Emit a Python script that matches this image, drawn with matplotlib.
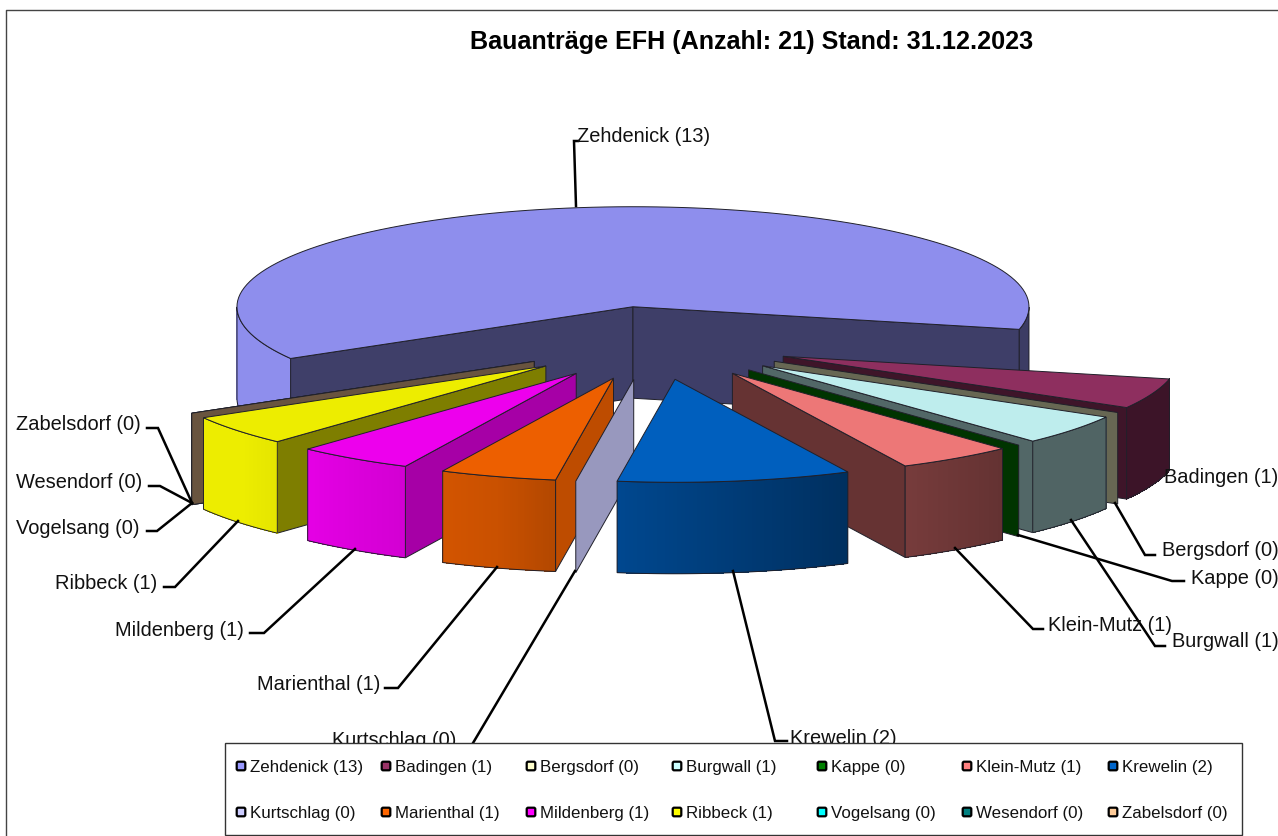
import matplotlib
matplotlib.use('Agg')
import matplotlib.pyplot as plt
from matplotlib.patches import Polygon, Rectangle, FancyBboxPatch
import numpy as np

plt.rcParams['font.family'] = ['Liberation Sans', 'DejaVu Sans']

# data
places = ['Zehdenick', 'Badingen', 'Bergsdorf', 'Burgwall', 'Kappe', 'Klein-Mutz', 'Krewelin',
          'Kurtschlag', 'Marienthal', 'Mildenberg', 'Ribbeck', 'Vogelsang', 'Wesendorf', 'Zabelsdorf']
counts = [13, 1, 0, 1, 0, 1, 2, 0, 1, 1, 1, 0, 0, 0]
colors = ['#9999ff', '#993366', '#ffffcc', '#ccffff', '#008000', '#ff8080', '#0066cc',
          '#ccccff', '#ff6600', '#ff00ff', '#ffff00', '#00ffff', '#008080', '#ffcc99']
title = 'Bauanträge EFH (Anzahl: 21) Stand: 31.12.2023'

# pie geometry, in pixels
cx, cy = 654, 344
rx = 396
ry_back, ry_front = 100, 103
explode_x, explode_y = 138.6, 36.7
depth = 91.5
first_angle = -12.7
draw_order = [0, 11, 12, 13, 10, 9, 8, 7, 1, 2, 3, 4, 5, 6]

# where the labels sit: text x, text y, align, leader line
label_layout = {
    'Zehdenick': (577, 135, 'left', [(576, 207), (574, 142), (578, 142)]),
    'Krewelin': (790, 737, 'left', [(733, 572), (775, 742), (787, 742)]),
    'Kurtschlag': (456, 739, 'right', [(575, 572), (473, 744)]),
    'Marienthal': (380, 683, 'right', [(497, 568), (398, 689), (385, 689)]),
    'Mildenberg': (244, 629, 'right', [(355, 550), (264, 634), (250, 634)]),
    'Ribbeck': (157, 582, 'right', [(238, 522), (175, 588), (164, 588)]),
    'Vogelsang': (140, 527, 'right', [(192, 504), (157, 532), (147, 532)]),
    'Wesendorf': (142, 481, 'right', [(192, 504), (160, 487), (149, 487)]),
    'Zabelsdorf': (141, 423, 'right', [(192, 504), (158, 429), (147, 429)]),
    'Badingen': (1164, 476, 'left', None),
    'Bergsdorf': (1162, 549, 'left', [(1115, 504), (1145, 556), (1155, 556)]),
    'Kappe': (1191, 577, 'left', [(1018, 536), (1172, 582), (1184, 582)]),
    'Burgwall': (1172, 640, 'left', [(1071, 521), (1155, 647), (1165, 647)]),
    'Klein-Mutz': (1048, 624, 'left', [(955, 549), (1033, 630), (1043, 630)]),
}
legend_x = [241, 386, 531, 677, 822, 967, 1113]
legend_y = [767, 813]


def norm_angle(a):
    return (a + 180) % 360 - 180


def rgb(hex_color, shade):
    c = np.array(matplotlib.colors.to_rgb(hex_color)) * 0.93 * shade
    return tuple(np.clip(c, 0, 1))


def outer_shade(a):
    return np.interp(norm_angle(a), [-180, -140, -125, -107, -98, -64, -47, 180],
                     [1, 1, 0.93, 0.85, 0.75, 0.5, 0.42, 0.42])


def wall_shade(normal):
    return np.interp(norm_angle(normal), [-180, -60, -42.7, -25.6, -8.4, 180],
                     [0.43, 0.44, 0.53, 0.7, 0.8, 0.8])


def rim(tip, a):
    a = np.radians(a)
    ry = ry_front if np.sin(a) < 0 else ry_back
    return tip[0] + rx * np.cos(a), tip[1] - ry * np.sin(a)


fig = plt.figure(figsize=(12.78, 8.37), dpi=100)
ax = fig.add_axes([0, 0, 1, 1])
ax.set_xlim(0, 1278)
ax.set_ylim(837, 0)
ax.axis('off')

line_col = '#20202a'

# outer frame of the chart area
ax.plot([6, 6, 1278], [837, 11, 11], color='#444444', lw=1, zorder=1)

# angle range of every slice, clockwise from first_angle
spans = [360 * c / sum(counts) for c in counts]
hi_angle = first_angle + spans[0]
slices = []
for s in spans:
    slices.append((hi_angle, hi_angle - s))
    hi_angle -= s

z = 2
for i in draw_order:
    hi, lo = slices[i]
    mid = np.radians((hi + lo) / 2)
    tip = (cx + explode_x * np.cos(mid), cy - explode_y * np.sin(mid))
    col = colors[i]

    # straight walls
    for a, normal, visible in [(hi, hi + 90, np.cos(np.radians(hi)) < 0),
                               (lo, lo - 90, np.cos(np.radians(lo)) > 0)]:
        if not visible:
            continue
        p = rim(tip, a)
        wall = [tip, p, (p[0], p[1] + depth), (tip[0], tip[1] + depth)]
        ax.add_patch(Polygon(wall, closed=True, facecolor=rgb(col, wall_shade(normal)),
                             edgecolor=line_col, lw=0.7, zorder=z))
        z += 1

    if hi == lo:
        continue

    # curved outer wall, only the part that faces the viewer
    steps = np.linspace(lo, hi, 90)
    steps = steps[np.sin(np.radians(steps)) <= 0]
    for run in [np.array([a for a in steps if a < 0]), np.array([a for a in steps if a >= 180])]:
        if len(run) < 2:
            continue
        run = np.linspace(run[0], run[-1], 60)
        pts = [rim(tip, a) for a in run]
        for k in range(len(run) - 1):
            x0, y0 = pts[k]
            x1, y1 = pts[k + 1]
            shade = outer_shade((run[k] + run[k + 1]) / 2)
            ax.add_patch(Polygon([(x0, y0), (x1, y1), (x1, y1 + depth), (x0, y0 + depth)], closed=True,
                                 facecolor=rgb(col, shade), edgecolor='none', antialiased=False, zorder=z))
        outline = pts + [(x, y + depth) for x, y in pts[::-1]]
        ax.add_patch(Polygon(outline, closed=True, fill=False, edgecolor=line_col, lw=0.7, zorder=z + 1))
        z += 2

    # top face
    top = [tip] + [rim(tip, a) for a in np.linspace(hi, lo, 120)]
    ax.add_patch(Polygon(top, closed=True, facecolor=rgb(col, 1), edgecolor=line_col, lw=0.7, zorder=z))
    z += 1

# data labels and leader lines
for name, count in zip(places, counts):
    x, y, ha, leader = label_layout[name]
    if leader:
        xs, ys = zip(*leader)
        ax.plot(xs, ys, color='black', lw=1.8, zorder=z, solid_joinstyle='miter')
    ax.text(x, y + 1.5, f'{name} ({count})', ha=ha, va='center', fontsize=14.4, color='#111111', zorder=z + 1)

# title
ax.text(752, 41.5, title, ha='center', va='center', fontsize=18.1, fontweight='bold', color='black', zorder=z + 1)

# legend box
ax.add_patch(Rectangle((225, 744), 1017, 92, facecolor='white', edgecolor='#333333', lw=1, zorder=z + 2))
for i, (name, count) in enumerate(zip(places, counts)):
    row, col_i = divmod(i, 7)
    lx, ly = legend_x[col_i], legend_y[row]
    ax.add_patch(FancyBboxPatch((lx - 3.5, ly - 3.5), 7, 7, boxstyle='round,pad=0.8,rounding_size=1.5',
                                facecolor=colors[i], edgecolor='black', lw=1.6, zorder=z + 3))
    ax.text(lx + 9, ly + 1, f'{name} ({count})', ha='left', va='center', fontsize=12.2, color='#111111', zorder=z + 3)

fig.savefig('out.png', dpi=100, facecolor='white')
plt.close(fig)
